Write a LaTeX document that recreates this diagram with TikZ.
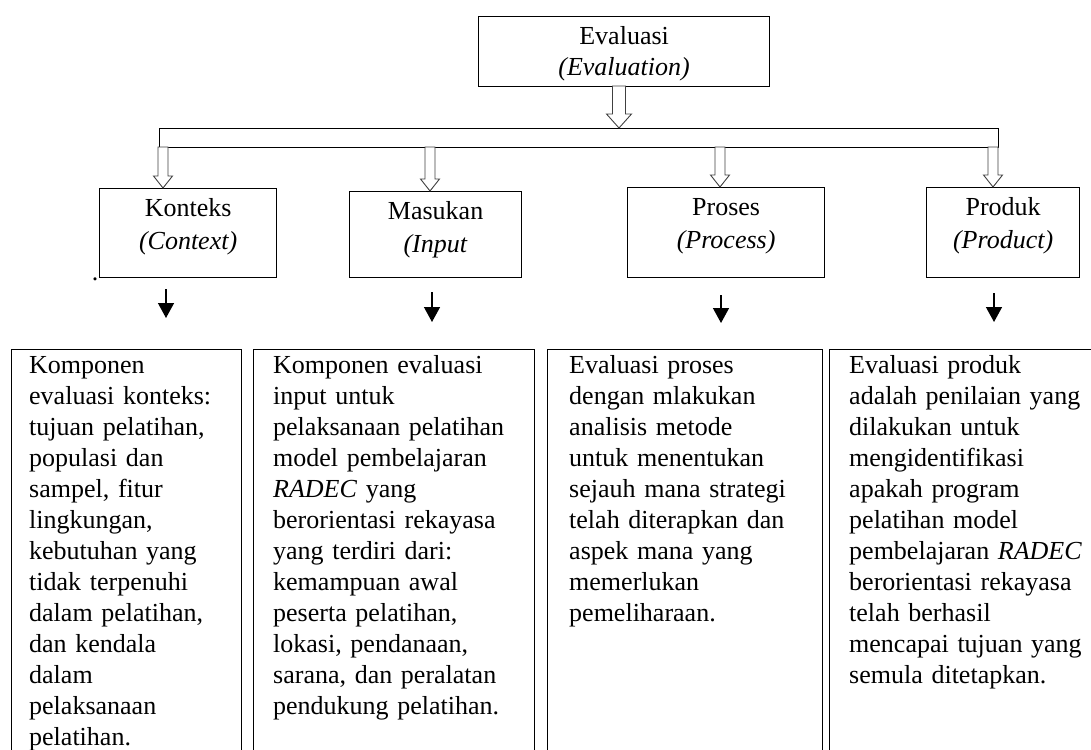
\documentclass[tikz,border=0pt]{standalone}
\usepackage{fontspec}
\setmainfont{Liberation Serif}
\usetikzlibrary{positioning, arrows.meta}

% block arrow pointing down: tip, shaft half width, head half width, head length, total length
\newcommand{\hollowarrow}[5]{%
  \draw[hollow] (#1) -- ++(-#3,-#4) -- ++(#3-#2,0) -- ++(0,#4-#5) -- ++(2*#2,0)
    -- ++(0,#5-#4) -- ++(#3-#2,0) -- cycle;}

\tikzset{
    topbox/.style = {draw, line width=1.2pt, inner sep=0pt, align=center,
        anchor=north west, text height=28pt},
    lowbox/.style = {draw, line width=1.2pt, inner sep=0pt, anchor=north west,
        minimum height=460pt},
    lowtext/.style = {inner sep=0pt, anchor=base west, align=left, text width=262pt},
    hollow/.style = {draw=black!75, line width=0.9pt, fill=white},
    downarrow/.style = {line width=1.4pt, -{Triangle[length=15pt, width=16pt]}}
}

\begin{document}
\begin{tikzpicture}[x=1pt, y=-1pt, font=\fontsize{26}{31}\selectfont]
    \useasboundingbox (0,0) rectangle (1091,749);
    \clip (0,0) rectangle (1091,749);

    % top
    \node[topbox, text width=291pt, text depth=42pt] (eval) at (478,16)
        {Evaluasi\\\textit{(Evaluation)}};
    \node[draw, line width=1.2pt, inner sep=0pt, anchor=north west,
        minimum width=839pt, minimum height=19pt] (bar) at (159,128) {};
    \coordinate (tip0) at (619,128);
    \hollowarrow{tip0}{6.5}{12.5}{14}{42}

    % CIPP boxes
    \node[topbox, text width=177pt, text depth=61pt] (kont) at (99,188)
        {Konteks\\[2pt]\textit{(Context)}};
    \node[topbox, text width=172pt, text depth=58pt] (masuk) at (349,191)
        {Masukan\\[2pt]\textit{(Input}};
    \node[topbox, text width=197pt, text depth=62pt] (proses) at (627,187)
        {Proses\\[2pt]\textit{(Process)}};
    \node[topbox, text width=153pt, text depth=62pt] (produk) at (926,187)
        {Produk\\[2pt]\textit{(Product)}};
    \node[inner sep=0pt, anchor=base] (dot) at (95,280) {.};

    \coordinate (k1) at (163,147);
    \coordinate (k2) at (430,147);
    \coordinate (k3) at (720,147);
    \coordinate (k4) at (993,147);
    \hollowarrow{k1 |- kont.north}{5}{9.5}{12}{41}
    \hollowarrow{k2 |- masuk.north}{5}{9.5}{12}{44}
    \hollowarrow{k3 |- proses.north}{5}{9.5}{12}{40}
    \hollowarrow{k4 |- produk.north}{5}{9.5}{12}{40}

    \coordinate (d1) at (166,289);
    \coordinate (d2) at (432,292);
    \coordinate (d3) at (721,295);
    \coordinate (d4) at (994,293);
    \draw[downarrow] (d1) -- ++(0,29);
    \draw[downarrow] (d2) -- ++(0,30);
    \draw[downarrow] (d3) -- ++(0,28);
    \draw[downarrow] (d4) -- ++(0,29);

    % descriptions
    \node[lowbox, minimum width=230pt] (b1) at (11,349) {};
    \node[lowbox, minimum width=281pt] (b2) at (253,349) {};
    \node[lowbox, minimum width=275pt] (b3) at (547,349) {};
    \node[lowbox, minimum width=300pt] (b4) at (829,349) {};

    \node[lowtext] (t1) at ([xshift=18pt, yshift=-24pt]b1.north west)
        {Komponen\\evaluasi konteks:\\tujuan pelatihan,\\populasi dan\\sampel, fitur\\lingkungan,\\kebutuhan yang\\tidak terpenuhi\\dalam pelatihan,\\dan kendala\\dalam\\pelaksanaan\\pelatihan.};
    \node[lowtext] (t2) at ([xshift=20pt, yshift=-24pt]b2.north west)
        {Komponen evaluasi\\input untuk\\pelaksanaan pelatihan\\model pembelajaran\\\textit{RADEC} yang\\berorientasi rekayasa\\yang terdiri dari:\\kemampuan awal\\peserta pelatihan,\\lokasi, pendanaan,\\sarana, dan peralatan\\pendukung pelatihan.};
    \node[lowtext] (t3) at ([xshift=22pt, yshift=-24pt]b3.north west)
        {Evaluasi proses\\dengan mlakukan\\analisis metode\\untuk menentukan\\sejauh mana strategi\\telah diterapkan dan\\aspek mana yang\\memerlukan\\pemeliharaan.};
    \node[lowtext] (t4) at ([xshift=20pt, yshift=-24pt]b4.north west)
        {Evaluasi produk\\adalah penilaian yang\\dilakukan untuk\\mengidentifikasi\\apakah program\\pelatihan model\\pembelajaran \textit{RADEC}\\berorientasi rekayasa\\telah berhasil\\mencapai tujuan yang\\semula ditetapkan.};
\end{tikzpicture}
\end{document}
